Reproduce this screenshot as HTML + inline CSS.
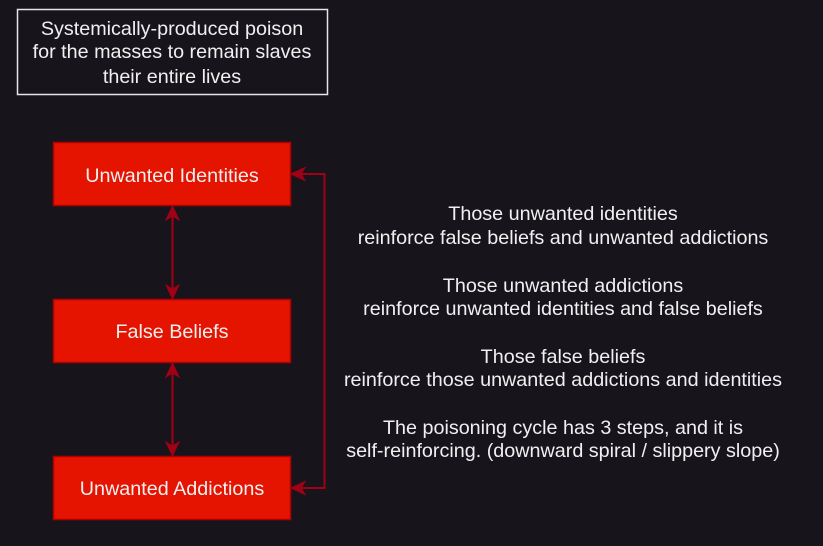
<!DOCTYPE html>
<html><head><meta charset="utf-8"><style>
html,body{margin:0;padding:0;background:#18141c;}
svg{display:block;}
text{font-family:"Liberation Sans",sans-serif;fill:#f0f0f0;}
</style></head><body>
<svg width="823" height="546" viewBox="0 0 823 546" xmlns="http://www.w3.org/2000/svg">
<rect width="823" height="546" fill="#18141c"/>
<rect x="17.5" y="9.5" width="310" height="85" fill="none" stroke="#e6e6e6" stroke-width="1.5"/>
<g text-anchor="middle" font-size="19.75">
<text x="172" y="35">Systemically-produced poison</text>
<text x="172" y="58">for the masses to remain slaves</text>
<text x="172" y="83">their entire lives</text>
</g>

<g fill="#e51400" stroke="#b20000" stroke-width="1.5">
<rect x="53.5" y="142.5" width="237" height="63"/>
<rect x="53.5" y="299.5" width="237" height="63"/>
<rect x="53.5" y="456.5" width="237" height="63"/>
</g>
<g text-anchor="middle" font-size="19.75">
<text x="172" y="182">Unwanted Identities</text>
<text x="172" y="338">False Beliefs</text>
<text x="172" y="495">Unwanted Addictions</text>
</g>

<g stroke="#a20015" stroke-width="2" fill="none">
<line x1="172.5" y1="214" x2="172.5" y2="291"/>
<line x1="172.5" y1="371" x2="172.5" y2="448"/>
<polyline points="300,174 324.5,174 324.5,488 300,488"/>
</g>
<g stroke="#a20015" fill="#a20015">
<path d="M172.5,206 L179,220 L172.5,216 L166,220 Z"/>
<path d="M172.5,299 L179,285 L172.5,289 L166,285 Z"/>
<path d="M172.5,363 L179,377 L172.5,373 L166,377 Z"/>
<path d="M172.5,456 L179,442 L172.5,446 L166,442 Z"/>
<path d="M291,174 L305,167.5 L301,174 L305,180.5 Z"/>
<path d="M291,488 L305,481.5 L301,488 L305,494.5 Z"/>
</g>

<g text-anchor="middle" font-size="19.75">
<text x="563" y="220">Those unwanted identities</text>
<text x="563" y="244">reinforce false beliefs and unwanted addictions</text>
<text x="563" y="292">Those unwanted addictions</text>
<text x="563" y="315">reinforce unwanted identities and false beliefs</text>
<text x="563" y="363">Those false beliefs</text>
<text x="563" y="386">reinforce those unwanted addictions and identities</text>
<text x="563" y="434">The poisoning cycle has 3 steps, and it is</text>
<text x="563" y="457">self-reinforcing. (downward spiral / slippery slope)</text>
</g>
</svg>
</body></html>
